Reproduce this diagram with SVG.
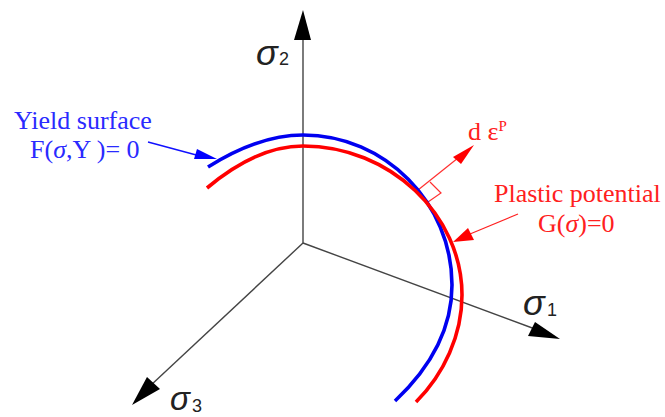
<svg xmlns="http://www.w3.org/2000/svg" width="665" height="417" viewBox="0 0 665 417">
<style>
.axis{stroke:#444;stroke-width:1.4;fill:none}
.head{fill:#000;stroke:none}
.curve{fill:none;stroke-width:3.6;stroke-linecap:butt}
.t{font-family:"Liberation Serif",serif;font-size:26px}
.blue{fill:#2a2aff}
.red{fill:#ff2020}
.sig{font-family:"Liberation Sans",sans-serif;font-style:italic;font-size:36px;fill:#222}
.sub{font-family:"Liberation Sans",sans-serif;font-size:18px;fill:#222}
</style>
<rect width="665" height="417" fill="#fff"/>
<g id="connectors">
<path class="axis" d="M303 243V40"/>
<path class="axis" d="M303 243L535 329"/>
<path class="axis" d="M303 243L150 386"/>
<polygon class="head" points="303,10 294,40 311,40"/>
<polygon class="head" points="560,339 528,336 535,322"/>
<polygon class="head" points="132,405 147,377 160,389"/>
<path d="M148 142L200 156" stroke="#1010ff" stroke-width="1.4" fill="none"/>
<polygon points="217,159 197,149 194,159" fill="#0000ff"/>
<path d="M418 190L458 158" stroke="#ff3030" stroke-width="1.2" fill="none"/>
<polygon points="474,145 453,157 461,164" fill="#ff0000"/>
<path d="M430 182L441 193L428 202" stroke="#ff3030" stroke-width="1.2" fill="none"/>
<path d="M518 214L470 234" stroke="#ff2020" stroke-width="1.2" fill="none"/>
<polygon points="453,242 468,228 474,240" fill="#ff0000"/>
</g>
<g id="blue-curve"><path class="curve" stroke="#0000f0" d="M208 167C235 150 268 135 303 135C385 135 452 203 452 285C452 330 430 368 395 401"/></g>
<g id="red-curve"><path class="curve" stroke="#f00" d="M207 188C232 167 265 146 303 146C390 146 462 215 462 295C462 335 444 374 416 402"/></g>
<g id="yield-label">
<text class="t blue" x="14" y="129">Yield surface</text>
<text class="t blue" x="30" y="158">F(<tspan font-style="italic">σ</tspan>,Y )= 0</text>
</g>
<g id="plastic-label">
<text class="t red" x="494" y="202">Plastic potential</text>
<text class="t red" x="538" y="232">G(<tspan font-style="italic">σ</tspan>)=0</text>
</g>
<g id="strain-label"><text class="t red" x="468" y="140">d ε<tspan font-size="15" dy="-9">P</tspan></text></g>
<g id="sigma2"><text class="sig" x="256" y="65">σ</text><text class="sub" x="279" y="65">2</text></g>
<g id="sigma1"><text class="sig" x="523" y="315">σ</text><text class="sub" x="547" y="316">1</text></g>
<g id="sigma3"><text class="sig" x="170" y="410" style="font-size:33px">σ</text><text class="sub" x="192" y="412">3</text></g>
</svg>
